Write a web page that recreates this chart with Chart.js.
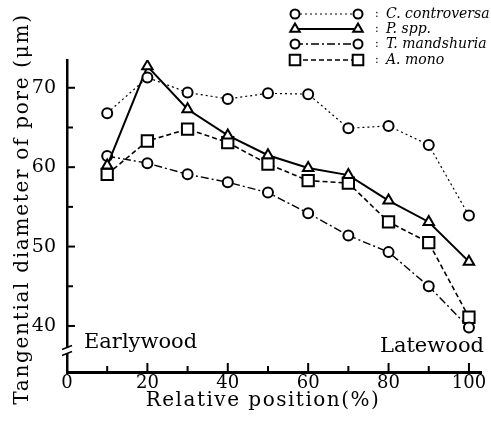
<!DOCTYPE html>
<html lang="en">
<head>
  <meta charset="UTF-8">
  <title>Tangential diameter of pore</title>
  <script src="https://cdn.jsdelivr.net/npm/chart.js"></script>
  <style>
    body { margin: 0; background: #fff; }
    #wrap { width: 491px; height: 427px; }
  </style>
</head>
<body>
  <div id="wrap"><canvas id="chart" width="491" height="427"></canvas></div>

  <script>
    // relative position (%) of each sample
    const positions = [10, 20, 30, 40, 50, 60, 70, 80, 90, 100];
    const controversa = [66.8, 71.3, 69.4, 68.6, 69.3, 69.2, 64.9, 65.2, 62.8, 53.9];
    const pSpp = [60.2, 72.7, 67.3, 64.0, 61.5, 59.9, 59.0, 55.8, 53.1, 48.1];
    const mandshuria = [61.4, 60.5, 59.1, 58.1, 56.8, 54.2, 51.4, 49.3, 45.0, 39.8];
    const mono = [59.1, 63.3, 64.8, 63.1, 60.4, 58.3, 58.0, 53.1, 50.5, 41.1];
    const seriesNames = ['C. controversa', 'P. spp.', 'T. mandshuria', 'A. mono'];
    const xTicks = [0, 10, 20, 30, 40, 50, 60, 70, 80, 90, 100];
    const yTicks = [40, 45, 50, 55, 60, 65, 70];

    const serif = "'DejaVu Serif', 'Liberation Serif', serif";

    function pts(vals) {
      return positions.map((p, i) => ({ x: p, y: vals[i] }));
    }

    function series(label, vals, style, dash, width, radius) {
      return {
        label: label,
        data: pts(vals),
        borderColor: '#000',
        borderWidth: width,
        borderDash: dash,
        pointStyle: style,
        pointRadius: radius,
        pointBorderWidth: 2,
        pointBorderColor: '#000',
        pointBackgroundColor: '#fff',
        tension: 0,
        fill: false
      };
    }

    // legend: marker - line - marker : name
    const legendPlugin = {
      id: 'refLegend',
      afterDraw(chart) {
        const ctx = chart.ctx;
        const rows = [14, 29, 44, 60];
        chart.data.datasets.forEach((ds, i) => {
          const y = rows[i];
          ctx.save();
          ctx.strokeStyle = '#000';
          ctx.lineWidth = ds.borderWidth;
          ctx.setLineDash(ds.borderDash);
          ctx.beginPath();
          ctx.moveTo(295, y);
          ctx.lineTo(358, y);
          ctx.stroke();
          ctx.setLineDash([]);
          const opts = { pointStyle: ds.pointStyle, radius: ds.pointRadius - 0.5, borderWidth: 2 };
          ctx.fillStyle = '#fff';
          ctx.lineWidth = 2;
          Chart.helpers.drawPoint(ctx, opts, 295, y);
          Chart.helpers.drawPoint(ctx, opts, 358, y);
          ctx.fillStyle = '#000';
          ctx.font = '11px ' + serif;
          ctx.textBaseline = 'middle';
          ctx.fillText(':', 375, y);
          ctx.font = 'italic 14px ' + serif;
          ctx.fillText(ds.label, 386, y);
          ctx.restore();
        });
      }
    };

    // inward ticks, axis break, axis titles and the two wood labels
    const axisDecor = {
      id: 'axisDecor',
      afterDraw(chart) {
        const ctx = chart.ctx;
        const xs = chart.scales.x, ys = chart.scales.y;
        const a = chart.chartArea;
        ctx.save();
        ctx.strokeStyle = '#000';
        ctx.lineWidth = 2;
        xTicks.forEach(v => {
          if (v === 0) return;
          const px = xs.getPixelForValue(v);
          const len = v % 20 === 0 ? 9 : 6;
          ctx.beginPath();
          ctx.moveTo(px, a.bottom);
          ctx.lineTo(px, a.bottom - len);
          ctx.stroke();
        });
        yTicks.forEach(v => {
          const py = ys.getPixelForValue(v);
          const len = v % 10 === 0 ? 8 : 6;
          ctx.beginPath();
          ctx.moveTo(a.left, py);
          ctx.lineTo(a.left + len, py);
          ctx.stroke();
        });
        // break on the y axis
        const by = ys.getPixelForValue(36.9);
        ctx.fillStyle = '#fff';
        ctx.fillRect(a.left - 3, by - 3, 6, 6);
        ctx.lineWidth = 1.5;
        [-3, 3].forEach(d => {
          ctx.beginPath();
          ctx.moveTo(a.left - 5, by + d + 2);
          ctx.lineTo(a.left + 5, by + d - 2);
          ctx.stroke();
        });
        ctx.fillStyle = '#000';
        ctx.font = '21px ' + serif;
        ctx.textBaseline = 'alphabetic';
        ctx.textAlign = 'left';
        ctx.fillText('Earlywood', a.left + 17, a.bottom - 24);
        ctx.textAlign = 'right';
        ctx.fillText('Latewood', a.right + 3, a.bottom - 20);

        // axis titles
        ctx.textAlign = 'center';
        ctx.textBaseline = 'middle';
        ctx.font = '20px ' + serif;
        ctx.letterSpacing = '1.5px';
        ctx.fillText('Relative position(%)', 263, 401);
        ctx.translate(23, 209);
        ctx.rotate(-Math.PI / 2);
        ctx.letterSpacing = '1.7px';
        ctx.fillText('Tangential diameter of pore (μm)', 0, 0);
        ctx.restore();
      }
    };

    new Chart(document.getElementById('chart'), {
      type: 'line',
      data: {
        datasets: [
          series(seriesNames[0], controversa, 'circle', [2, 3], 1.2, 5),
          series(seriesNames[1], pSpp, 'triangle', [], 2, 6),
          series(seriesNames[2], mandshuria, 'circle', [8, 3, 2, 3], 1.4, 5),
          series(seriesNames[3], mono, 'rect', [5, 3], 1.6, 8)
        ]
      },
      options: {
        responsive: false,
        animation: false,
        layout: { padding: { top: 60, right: 9, left: 0, bottom: 0 } },
        plugins: {
          legend: { display: false },
          tooltip: { enabled: false }
        },
        scales: {
          x: {
            type: 'linear',
            min: 0,
            max: 103,
            afterBuildTicks: s => { s.ticks = xTicks.map(v => ({ value: v })); },
            afterFit: s => { s.height = 55; },
            grid: { display: false, drawTicks: false },
            border: { display: true, color: '#000', width: 3 },
            ticks: {
              color: '#000',
              padding: 1,
              maxRotation: 0,
              font: { family: serif, size: 18 },
              callback: v => (v % 20 === 0 ? String(v) : '')
            }
          },
          y: {
            min: 34.2,
            max: 73.5,
            afterBuildTicks: s => { s.ticks = yTicks.map(v => ({ value: v })); },
            afterFit: s => { s.width = 67; },
            grid: { display: false, drawTicks: false },
            border: { display: true, color: '#000', width: 2.5 },
            ticks: {
              color: '#000',
              padding: 11,
              font: { family: serif, size: 19 },
              callback: v => (v % 10 === 0 ? String(v) : '')
            }
          }
        }
      },
      plugins: [legendPlugin, axisDecor]
    });
  </script>
</body>
</html>
